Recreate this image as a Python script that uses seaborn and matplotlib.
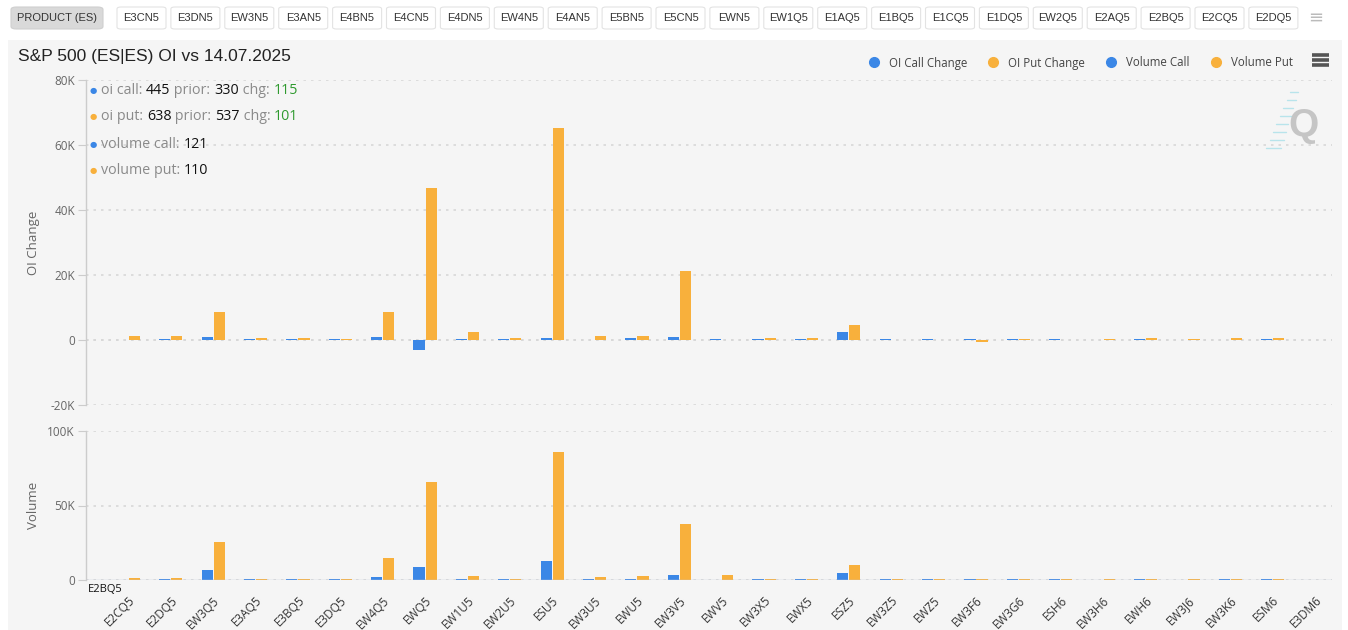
import numpy as np
import pandas as pd
import matplotlib
matplotlib.use("Agg")
import matplotlib.pyplot as plt
import seaborn as sns
from matplotlib.patches import FancyBboxPatch, Rectangle
from matplotlib.lines import Line2D
from matplotlib.ticker import FuncFormatter, FixedLocator

# products shown in the button bar on top
buttons = ["E3CN5", "E3DN5", "EW3N5", "E3AN5", "E4BN5", "E4CN5", "E4DN5", "EW4N5",
           "E4AN5", "E5BN5", "E5CN5", "EWN5", "EW1Q5", "E1AQ5", "E1BQ5", "E1CQ5",
           "E1DQ5", "EW2Q5", "E2AQ5", "E2BQ5", "E2CQ5", "E2DQ5"]

# expiries on the x axis
categories = ["E2BQ5", "E2CQ5", "E2DQ5", "EW3Q5", "E3AQ5", "E3BQ5", "E3DQ5", "EW4Q5",
              "EWQ5", "EW1U5", "EW2U5", "ESU5", "EW3U5", "EWU5", "EW3V5", "EWV5",
              "EW3X5", "EWX5", "ESZ5", "EW3Z5", "EWZ5", "EW3F6", "EW3G6", "ESH6",
              "EW3H6", "EWH6", "EW3J6", "EW3K6", "ESM6", "E3DM6"]

oi_call_change = [115, 100, 400, 900, 400, 400, 400, 900, -3000, 400, 400, 600, 100, 500, 800,
                  400, 300, 400, 2500, 400, 400, 400, 400, 400, 0, 400, 0, 100, 400, 0]
oi_put_change = [101, 1200, 1200, 8600, 500, 500, 400, 8600, 46800, 2500, 500, 65200, 1200,
                 1200, 21200, 0, 600, 500, 4600, 0, 0, -500, 300, 0, 300, 500, 300, 700, 700, 0]
volume_call = [121, 100, 600, 6700, 500, 500, 500, 1800, 8700, 500, 500, 12800, 500, 1000, 3400,
               300, 500, 500, 4800, 500, 500, 500, 500, 500, 300, 500, 300, 500, 500, 0]
volume_put = [110, 1100, 1100, 25300, 400, 400, 400, 14800, 65800, 2700, 900, 85900, 2000,
              2700, 37600, 3300, 700, 400, 10000, 400, 400, 1000, 400, 400, 400, 500, 400, 1000, 500, 0]

# tooltip of the hovered expiry (E2BQ5)
tip_oi_call = [445, 330, 115]
tip_oi_put = [638, 537, 101]
tip_vol_call = 121
tip_vol_put = 110

BLUE = "#3b87e6"
ORANGE = "#f8b03c"
GREY_TXT = "#666666"

sns.set_theme(style="white")
plt.rcParams["font.family"] = ["Open Sans", "DejaVu Sans"]

W, H = 1348, 630
fig = plt.figure(figsize=(W / 100, H / 100), dpi=100, facecolor="white")


def fx(px):
    return px / W


def fy(py):
    return 1 - py / H


# chart panel background
fig.add_artist(Rectangle((fx(8), 0), fx(1334), fy(40), transform=fig.transFigure,
                         facecolor="#f5f5f5", edgecolor="none", zorder=0))

# button bar
fig.add_artist(FancyBboxPatch((fx(11), fy(29)), fx(92), fy(7) - fy(29),
                              boxstyle="round,pad=0,rounding_size=0.004",
                              transform=fig.transFigure, facecolor="#d9d9d9",
                              edgecolor="#cfcfcf", lw=0.8))
fig.text(fx(57), fy(18), "PRODUCT (ES)", ha="center", va="center", fontsize=8,
         family=["Liberation Sans"], color="#333333")
for i, b in enumerate(buttons):
    x0 = 117 + i * 53.9
    fig.add_artist(FancyBboxPatch((fx(x0), fy(29)), fx(49), fy(7) - fy(29),
                                  boxstyle="round,pad=0,rounding_size=0.003",
                                  transform=fig.transFigure, facecolor="white",
                                  edgecolor="#e3e3e3", lw=0.8))
    fig.text(fx(x0 + 24.5), fy(18), b, ha="center", va="center", fontsize=8,
             family=["Liberation Sans"], color="#333333")
fig.text(fx(1316), fy(18), "≡", ha="center", va="center", fontsize=13,
         family=["DejaVu Sans"], color="#bbbbbb")

# title
fig.text(fx(18), fy(57), "S&P 500 (ES|ES) OI vs 14.07.2025", ha="left", va="center",
         fontsize=12.5, family=["Liberation Sans"], color="#222222")

# axes
ax1 = fig.add_axes([fx(86), fy(405), fx(1332 - 86), fy(80) - fy(405)])
ax2 = fig.add_axes([fx(86), fy(580), fx(1332 - 86), fy(431) - fy(580)])

oi = pd.DataFrame({
    "expiry": categories * 2,
    "series": ["OI Call Change"] * len(categories) + ["OI Put Change"] * len(categories),
    "value": oi_call_change + oi_put_change,
})
vol = pd.DataFrame({
    "expiry": categories * 2,
    "series": ["Volume Call"] * len(categories) + ["Volume Put"] * len(categories),
    "value": volume_call + volume_put,
})

sns.barplot(data=oi, x="expiry", y="value", hue="series", order=categories,
            palette=[BLUE, ORANGE], saturation=1, width=0.57, gap=0.08,
            linewidth=0, legend=False, ax=ax1, zorder=3)
sns.barplot(data=vol, x="expiry", y="value", hue="series", order=categories,
            palette=[BLUE, ORANGE], saturation=1, width=0.57, gap=0.08,
            linewidth=0, legend=False, ax=ax2, zorder=3)

kfmt = FuncFormatter(lambda v, p: "0" if v == 0 else f"{int(v / 1000)}K")

for ax, lo, hi, ticks, lab in [(ax1, -20000, 80000, np.arange(-20000, 80001, 20000), "OI Change"),
                                (ax2, 0, 100000, [0, 50000, 100000], "Volume")]:
    ax.set_facecolor("none")
    ax.set_xlim(0, 29.4)
    ax.set_ylim(lo, hi)
    ax.yaxis.set_major_locator(FixedLocator(ticks))
    ax.yaxis.set_major_formatter(kfmt)
    ax.grid(axis="y", color="#d8d8d8", linestyle=(0, (1.5, 3)), linewidth=1.2, zorder=0)
    for s in ["top", "right", "bottom"]:
        ax.spines[s].set_visible(False)
    ax.spines["left"].set_color("#cccccc")
    ax.spines["left"].set_linewidth(1)
    ax.tick_params(axis="y", length=6, width=0.8, color="#cccccc", labelsize=8.5,
                   labelcolor=GREY_TXT, left=True, pad=2)
    ax.set_ylabel(lab, fontsize=9.5, color=GREY_TXT)
    ax.yaxis.set_label_coords(-0.037, 0.5)
    ax.set_xlabel("")

ax1.tick_params(axis="x", bottom=False, labelbottom=False)
ax1.axhline(0, color="#d8d8d8", linestyle=(0, (1.5, 3)), linewidth=1.2, zorder=1)

ax2.axhline(0, color="#c0c8d8", linewidth=1, zorder=4)
ax2.set_xticks(range(len(categories)))
ax2.set_xticklabels([""] + categories[1:], rotation=45, ha="right",
                    rotation_mode="anchor", fontsize=8.5, color="#333333")
ax2.tick_params(axis="x", bottom=False, pad=4)

# crosshair label of hovered expiry
fig.text(fx(88), fy(590), "E2BQ5", ha="left", va="center", fontsize=8, color="#111111",
         bbox=dict(boxstyle="square,pad=0.15", facecolor="#f5f5f5", edgecolor="none"))

# legend
handles = [Line2D([], [], marker="o", linestyle="", markersize=7, color=c)
           for c in [BLUE, ORANGE, BLUE, ORANGE]]
fig.legend(handles, ["OI Call Change", "OI Put Change", "Volume Call", "Volume Put"],
           loc="center right", bbox_to_anchor=(fx(1303), fy(63)), ncol=4, frameon=False,
           fontsize=8.3, handletextpad=0.3, columnspacing=1.25, labelcolor="#444444")

# menu icon
for dy in (-5, 0, 5):
    fig.add_artist(Line2D([fx(1312), fx(1329)], [fy(60 + dy)] * 2, transform=fig.transFigure,
                          color="#555555", lw=2.6, solid_capstyle="butt"))

# watermark
fig.text(fx(1304), fy(126), "Q", ha="center", va="center", fontsize=28, fontweight="bold",
         family=["Liberation Sans"], color="#b9b9b9", alpha=0.8)
for k in range(8):
    yy = 92 + k * 8
    xx = 1298 - k * 2.4
    fig.add_artist(Line2D([fx(xx - 8 - k), fx(xx)], [fy(yy)] * 2, transform=fig.transFigure,
                          color="#9fdde8", lw=1, alpha=0.7))

# tooltip block


def tip_line(y_px, color, parts):
    fig.text(fx(93), fy(y_px), "●", ha="center", va="center", fontsize=6,
             color=color, family=["DejaVu Sans"])
    prev = None
    for s, c in parts:
        if prev is None:
            prev = ax1.annotate(s, xy=(fx(101), fy(y_px)), xycoords="figure fraction",
                                ha="left", va="center", fontsize=10.3, color=c)
        else:
            prev = ax1.annotate(s, xy=(1, 0), xycoords=prev, ha="left", va="bottom",
                                fontsize=10.3, color=c)


LBL = "#8a8a8a"
NUM = "#111111"
GRN = "#2f9a2f"
tip_line(90, BLUE, [("oi call: ", LBL), (str(tip_oi_call[0]), NUM), (" prior: ", LBL),
                    (str(tip_oi_call[1]), NUM), (" chg: ", LBL), (str(tip_oi_call[2]), GRN)])
tip_line(117, ORANGE, [("oi put: ", LBL), (str(tip_oi_put[0]), NUM), (" prior: ", LBL),
                       (str(tip_oi_put[1]), NUM), (" chg: ", LBL), (str(tip_oi_put[2]), GRN)])
tip_line(144, BLUE, [("volume call: ", LBL), (str(tip_vol_call), NUM)])
tip_line(171, ORANGE, [("volume put: ", LBL), (str(tip_vol_put), NUM)])

fig.savefig("out.png", dpi=100, facecolor="white")
